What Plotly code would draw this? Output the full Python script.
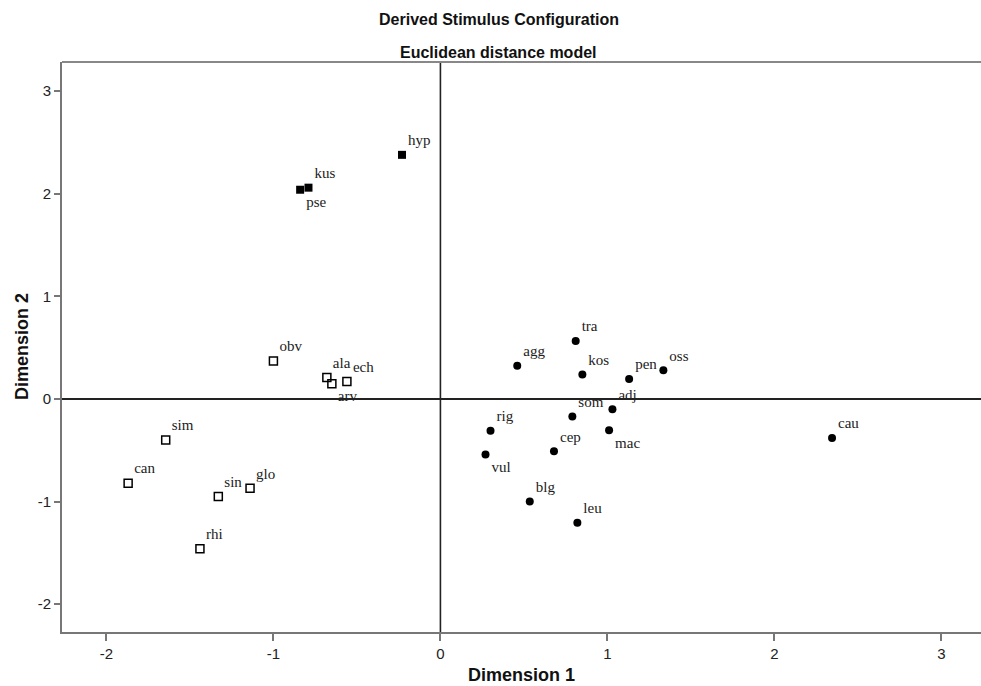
import plotly.graph_objects as go

# Filled squares
grpA_names = ["hyp", "kus", "pse"]
grpA_x = [-0.23, -0.79, -0.84]
grpA_y = [2.38, 2.06, 2.04]

# Open squares
grpB_names = ["obv", "ala", "arv", "ech", "sim", "can", "sin", "glo", "rhi"]
grpB_x = [-1.00, -0.68, -0.65, -0.56, -1.645, -1.87, -1.33, -1.14, -1.44]
grpB_y = [0.37, 0.21, 0.15, 0.17, -0.40, -0.82, -0.95, -0.87, -1.46]

# Filled circles
grpC_names = ["tra", "agg", "kos", "pen", "oss", "adj", "som", "rig", "mac",
              "cep", "vul", "blg", "leu", "cau"]
grpC_x = [0.81, 0.46, 0.85, 1.13, 1.335, 1.03, 0.79, 0.30, 1.01,
          0.68, 0.27, 0.535, 0.82, 2.345]
grpC_y = [0.565, 0.325, 0.24, 0.195, 0.28, -0.10, -0.17, -0.31, -0.305,
          -0.51, -0.54, -1.00, -1.205, -0.38]

x_ticks = [-2, -1, 0, 1, 2, 3]
y_ticks = [-2, -1, 0, 1, 2, 3]

posA = ["top right", "top right", "bottom right"]
posB = ["top right", "top right", "bottom right", "top right", "top right",
        "top right", "top right", "top right", "top right"]
posC = ["top right"] * 8 + ["bottom right", "top right", "bottom right",
                             "top right", "top right", "top right"]

lblfont = dict(family="Liberation Serif, Times New Roman, serif", size=15, color="#222")

fig = go.Figure()
fig.add_trace(go.Scatter(x=grpA_x, y=grpA_y, text=grpA_names, mode="markers+text",
                         textposition=posA, textfont=lblfont,
                         marker=dict(symbol="square", size=8, color="black")))
fig.add_trace(go.Scatter(x=grpB_x, y=grpB_y, text=grpB_names, mode="markers+text",
                         textposition=posB, textfont=lblfont,
                         marker=dict(symbol="square-open", size=8, color="black",
                                     line=dict(width=1.5, color="black"))))
fig.add_trace(go.Scatter(x=grpC_x, y=grpC_y, text=grpC_names, mode="markers+text",
                         textposition=posC, textfont=lblfont,
                         marker=dict(symbol="circle", size=8, color="black")))

# reference lines at zero
fig.add_shape(type="line", xref="x", yref="paper", x0=0, x1=0, y0=0, y1=1,
              line=dict(color="#222", width=1.6), layer="below")
fig.add_shape(type="line", xref="paper", yref="y", x0=0, x1=1, y0=0, y1=0,
              line=dict(color="#222", width=1.8), layer="below")
# top frame line
fig.add_shape(type="line", xref="paper", yref="paper", x0=0, x1=1, y0=1, y1=1,
              line=dict(color="#888", width=2))

tickfont = dict(family="Liberation Sans, Arial, sans-serif", size=15, color="#222")
fig.update_xaxes(range=[-2.266, 3.237], tickvals=x_ticks, ticktext=[str(v) for v in x_ticks],
                 showgrid=False, zeroline=False, showline=True, linecolor="#777", linewidth=2,
                 ticks="outside", ticklen=7, tickcolor="#777", tickwidth=1.5, tickfont=tickfont)
fig.update_yaxes(range=[-2.271, 3.285], tickvals=y_ticks, ticktext=[str(v) for v in y_ticks],
                 showgrid=False, zeroline=False, showline=True, linecolor="#777", linewidth=2,
                 ticks="outside", ticklen=6, tickcolor="#777", tickwidth=1.5, tickfont=tickfont)

titlefont = dict(family="Liberation Sans, Arial, sans-serif", size=16, color="#111")
axfont = dict(family="Liberation Sans, Arial, sans-serif", size=18, color="#111")
fig.update_layout(
    width=981, height=686,
    margin=dict(l=62, r=0, t=62, b=54),
    plot_bgcolor="white", paper_bgcolor="white",
    showlegend=False,
    annotations=[
        dict(text="<b>Derived Stimulus Configuration</b>", xref="paper", yref="paper",
             x=0.4755, y=1, yshift=43, showarrow=False, font=titlefont,
             xanchor="center", yanchor="middle"),
        dict(text="<b>Euclidean distance model</b>", xref="paper", yref="paper",
             x=0.4755, y=1, yshift=10, showarrow=False, font=titlefont,
             xanchor="center", yanchor="middle"),
        dict(text="<b>Dimension 1</b>", xref="paper", yref="paper",
             x=0.5, y=0, yshift=-43, showarrow=False, font=axfont,
             xanchor="center", yanchor="middle"),
        dict(text="<b>Dimension 2</b>", xref="paper", yref="paper",
             x=0, y=0.5, xshift=-40, showarrow=False, font=axfont, textangle=-90,
             xanchor="center", yanchor="middle"),
    ],
)

fig.write_html("out.html", config={"displayModeBar": False},
               post_script="document.body.style.margin='0';document.body.style.padding='0';")
